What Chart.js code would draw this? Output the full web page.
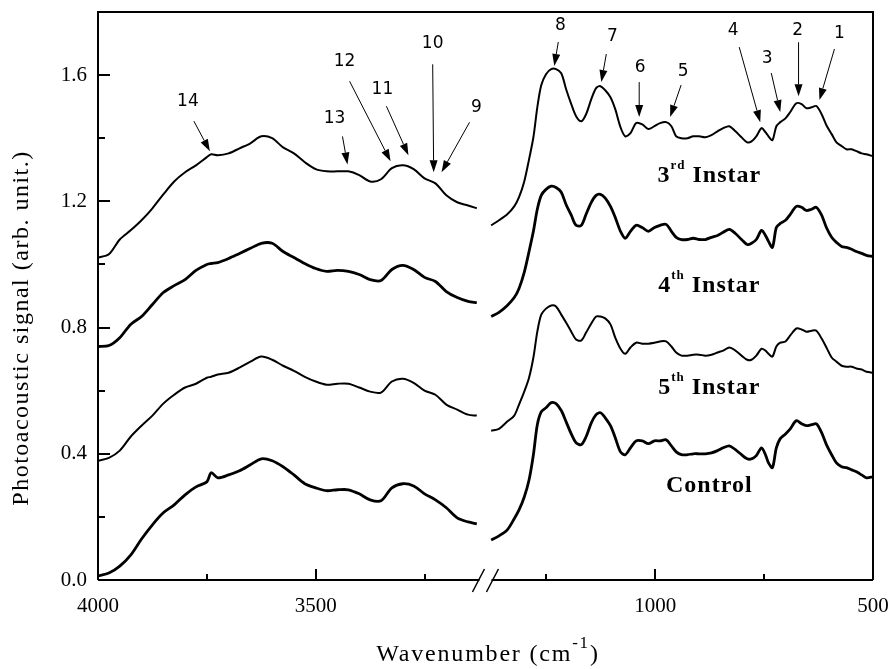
<!DOCTYPE html>
<html>
<head>
<meta charset="utf-8">
<script src="https://cdn.jsdelivr.net/npm/chart.js@4.4.1/dist/chart.umd.min.js"></script>
<style>
  html, body { margin: 0; padding: 0; background: #fff; }
  canvas { display: block; }
</style>
</head>
<body>
<canvas id="spectra" width="891" height="669"></canvas>
<script>
// === Data ===
// wavenumbers (cm-1) of the high-frequency part, left of the axis break
const wnLeft = [4000, 3975, 3950, 3925, 3900, 3875, 3850, 3825, 3800, 3775, 3750, 3740, 3725,
  3700, 3675, 3650, 3625, 3600, 3575, 3550, 3525, 3500, 3475, 3450, 3425, 3400, 3375, 3350,
  3325, 3300, 3275, 3250, 3225, 3200, 3175, 3150, 3130];

// wavenumbers of the fingerprint part, right of the break
const wnRight = [1377, 1359, 1340, 1324, 1313, 1301, 1290, 1280, 1271, 1262, 1251, 1239, 1228,
  1216, 1205, 1193, 1182, 1170, 1159, 1147, 1136, 1126, 1115, 1103, 1092, 1080, 1069, 1057,
  1044, 1030, 1016, 1002, 989, 975, 963, 952, 940, 926, 913, 899, 885, 871, 857, 844, 830,
  816, 802, 789, 779, 768, 756, 747, 740, 731, 722, 713, 701, 690, 676, 664, 653, 641, 630,
  618, 607, 595, 584, 572, 561, 549, 538, 526, 515, 500];

const instar3Left = [1.022, 1.032, 1.079, 1.108, 1.140, 1.178, 1.222, 1.263, 1.292, 1.314, 1.340,
  1.349, 1.346, 1.352, 1.368, 1.384, 1.406, 1.400, 1.371, 1.352, 1.324, 1.302, 1.295, 1.295,
  1.295, 1.283, 1.263, 1.270, 1.305, 1.314, 1.302, 1.273, 1.257, 1.219, 1.197, 1.187, 1.178];
const instar3Right = [1.124, 1.140, 1.159, 1.184, 1.213, 1.263, 1.333, 1.403, 1.498, 1.568,
  1.603, 1.619, 1.619, 1.606, 1.556, 1.508, 1.470, 1.454, 1.476, 1.524, 1.559, 1.565, 1.552,
  1.530, 1.492, 1.435, 1.406, 1.416, 1.448, 1.444, 1.429, 1.438, 1.448, 1.451, 1.438, 1.406,
  1.400, 1.400, 1.406, 1.406, 1.403, 1.410, 1.422, 1.432, 1.438, 1.422, 1.403, 1.387, 1.390,
  1.406, 1.432, 1.419, 1.406, 1.394, 1.438, 1.451, 1.463, 1.483, 1.511, 1.508, 1.495, 1.498,
  1.502, 1.476, 1.441, 1.413, 1.387, 1.375, 1.365, 1.365, 1.359, 1.352, 1.349, 1.343];

const instar4Left = [0.740, 0.743, 0.768, 0.810, 0.835, 0.873, 0.911, 0.933, 0.952, 0.981, 1.000,
  1.003, 1.006, 1.019, 1.035, 1.051, 1.067, 1.067, 1.041, 1.022, 1.003, 0.987, 0.978, 0.981,
  0.978, 0.968, 0.952, 0.949, 0.984, 0.997, 0.984, 0.959, 0.946, 0.914, 0.895, 0.883, 0.879];
const instar4Right = [0.835, 0.848, 0.870, 0.895, 0.924, 0.975, 1.041, 1.105, 1.175, 1.219,
  1.238, 1.248, 1.244, 1.229, 1.190, 1.156, 1.124, 1.124, 1.159, 1.197, 1.219, 1.222, 1.210,
  1.184, 1.149, 1.105, 1.083, 1.105, 1.124, 1.117, 1.105, 1.117, 1.124, 1.127, 1.105, 1.086,
  1.079, 1.079, 1.083, 1.079, 1.079, 1.086, 1.092, 1.102, 1.111, 1.098, 1.079, 1.063, 1.067,
  1.079, 1.108, 1.092, 1.073, 1.054, 1.117, 1.130, 1.140, 1.159, 1.184, 1.181, 1.171, 1.175,
  1.181, 1.156, 1.117, 1.086, 1.070, 1.057, 1.054, 1.048, 1.041, 1.035, 1.029, 1.025];

const instar5Left = [0.378, 0.387, 0.410, 0.454, 0.489, 0.521, 0.559, 0.587, 0.610, 0.622, 0.641,
  0.644, 0.651, 0.657, 0.673, 0.692, 0.708, 0.698, 0.679, 0.663, 0.644, 0.629, 0.619, 0.622,
  0.622, 0.610, 0.597, 0.594, 0.629, 0.638, 0.625, 0.600, 0.587, 0.556, 0.540, 0.524, 0.521];
const instar5Right = [0.473, 0.479, 0.502, 0.521, 0.556, 0.597, 0.641, 0.705, 0.787, 0.841,
  0.860, 0.870, 0.867, 0.841, 0.816, 0.787, 0.762, 0.759, 0.784, 0.813, 0.835, 0.835, 0.829,
  0.810, 0.768, 0.733, 0.717, 0.737, 0.752, 0.749, 0.749, 0.752, 0.756, 0.756, 0.740, 0.721,
  0.711, 0.711, 0.714, 0.714, 0.711, 0.714, 0.721, 0.727, 0.737, 0.727, 0.711, 0.698, 0.698,
  0.711, 0.733, 0.727, 0.717, 0.708, 0.740, 0.752, 0.756, 0.775, 0.797, 0.794, 0.787, 0.790,
  0.790, 0.765, 0.737, 0.705, 0.692, 0.679, 0.676, 0.676, 0.670, 0.667, 0.660, 0.657];

const controlLeft = [0.013, 0.022, 0.044, 0.079, 0.130, 0.175, 0.213, 0.238, 0.270, 0.295, 0.311,
  0.340, 0.324, 0.333, 0.346, 0.365, 0.384, 0.378, 0.359, 0.333, 0.305, 0.292, 0.283, 0.286,
  0.286, 0.273, 0.254, 0.251, 0.292, 0.305, 0.298, 0.273, 0.254, 0.229, 0.197, 0.184, 0.178];
const controlRight = [0.127, 0.140, 0.159, 0.194, 0.222, 0.263, 0.317, 0.397, 0.492, 0.533,
  0.546, 0.562, 0.559, 0.537, 0.502, 0.463, 0.435, 0.429, 0.454, 0.498, 0.524, 0.530, 0.514,
  0.489, 0.451, 0.406, 0.397, 0.419, 0.441, 0.441, 0.432, 0.441, 0.441, 0.444, 0.425, 0.406,
  0.397, 0.397, 0.400, 0.400, 0.400, 0.403, 0.410, 0.419, 0.425, 0.413, 0.397, 0.384, 0.384,
  0.394, 0.419, 0.397, 0.371, 0.356, 0.419, 0.448, 0.463, 0.479, 0.505, 0.495, 0.489, 0.492,
  0.495, 0.467, 0.429, 0.397, 0.371, 0.359, 0.356, 0.349, 0.343, 0.333, 0.324, 0.327];

// series labels: [main, superscript, rest]
const seriesLabels = [['3', 'rd', ' Instar'], ['4', 'th', ' Instar'], ['5', 'th', ' Instar'], ['Control', '', '']];
const seriesLabelSignal = [1.262, 0.913, 0.589, 0.278];

// tick labels
const xMajorTicks = [4000, 3500, 1000, 500];
const xMinorTicks = [3750, 3250, 1250, 750];
const yMajorStep = 0.4;
const yMinorStep = 0.2;

// numbered bands marked on the 3rd instar spectrum
const peakNumbers = [14, 13, 12, 11, 10, 9, 8, 7, 6, 5, 4, 3, 2, 1];
const peakWn = [3743, 3427, 3328, 3287, 3229, 3211, 1232, 1124, 1037, 966, 759, 713, 671, 623];
const peakSignal = [1.359, 1.317, 1.327, 1.346, 1.292, 1.292, 1.629, 1.578, 1.467, 1.467, 1.451, 1.483, 1.533, 1.521];

// === Broken axis: map wavenumber to one continuous axis position ===
const BREAK_WN = 2000;
const toAxis = wn => (wn > BREAK_WN ? 4000 - wn : 2280 - wn);
const BREAK_POS = 883;

function spectrum(left, right) {
  const pts = wnLeft.map((w, i) => ({ x: toAxis(w), y: left[i] }));
  pts.push({ x: BREAK_POS, y: null });
  wnRight.forEach((w, i) => pts.push({ x: toAxis(w), y: right[i] }));
  return pts;
}

const SERIF = '"Liberation Serif", "Times New Roman", serif';
const SANS = '"DejaVu Sans", Verdana, sans-serif';

// arrow tail / label offsets (px) relative to the arrow tip, same order as peakNumbers
const arrowTail = [[-16, -30], [-5, -28], [-41, -80], [-22, -49], [-1, -108], [28, -50], [4, -24],
  [5, -28], [0, -35], [11, -32], [-21, -75], [-9, -39], [0, -54], [15, -51]];
const labelOffset = [[-22, -50], [-13, -46], [-46, -100], [-26, -66], [-1, -129], [35, -65], [6, -40],
  [11, -45], [1, -50], [13, -46], [-27, -92], [-13, -53], [-1, -66], [20, -66]];

function drawArrow(ctx, x0, y0, x1, y1) {
  const ang = Math.atan2(y1 - y0, x1 - x0);
  const headLen = 12, headHalf = 4;
  const bx = x1 - headLen * Math.cos(ang), by = y1 - headLen * Math.sin(ang);
  ctx.beginPath();
  ctx.moveTo(x0, y0);
  ctx.lineTo(bx, by);
  ctx.stroke();
  ctx.beginPath();
  ctx.moveTo(x1, y1);
  ctx.lineTo(bx + headHalf * Math.sin(ang), by - headHalf * Math.cos(ang));
  ctx.lineTo(bx - headHalf * Math.sin(ang), by + headHalf * Math.cos(ang));
  ctx.closePath();
  ctx.fill();
}

function drawSupText(ctx, parts, cx, baseY, size, supSize, weight) {
  const [main, sup, rest] = parts;
  ctx.font = `${weight} ${size}px ${SERIF}`;
  const w1 = ctx.measureText(main).width;
  const w3 = ctx.measureText(rest).width;
  ctx.font = `${weight} ${supSize}px ${SERIF}`;
  const w2 = ctx.measureText(sup).width;
  let x = cx - (w1 + w2 + w3) / 2;
  ctx.textAlign = 'left';
  ctx.textBaseline = 'alphabetic';
  ctx.font = `${weight} ${size}px ${SERIF}`;
  ctx.fillText(main, x, baseY);
  x += w1;
  ctx.font = `${weight} ${supSize}px ${SERIF}`;
  ctx.fillText(sup, x, baseY - size * 0.55);
  x += w2;
  ctx.font = `${weight} ${size}px ${SERIF}`;
  ctx.fillText(rest, x, baseY);
}

// === Decorations: frame, inward ticks, axis break, arrows, labels ===
const decorations = {
  id: 'decorations',
  afterDatasetsDraw(chart) {
    const { ctx, chartArea: a, scales: { x, y } } = chart;
    ctx.save();
    ctx.fillStyle = '#000';
    ctx.strokeStyle = '#000';

    // numbered arrows
    ctx.lineWidth = 1;
    ctx.font = `17px ${SANS}`;
    ctx.textAlign = 'center';
    ctx.textBaseline = 'middle';
    peakNumbers.forEach((n, i) => {
      const tx = x.getPixelForValue(toAxis(peakWn[i]));
      const ty = y.getPixelForValue(peakSignal[i]);
      drawArrow(ctx, tx + arrowTail[i][0], ty + arrowTail[i][1], tx, ty);
      ctx.fillText(String(n), tx + labelOffset[i][0], ty + labelOffset[i][1]);
    });

    // series names
    ctx.letterSpacing = '1px';
    seriesLabels.forEach((parts, i) => {
      const cx = x.getPixelForValue(toAxis(876));
      const by = y.getPixelForValue(seriesLabelSignal[i]);
      drawSupText(ctx, parts, cx, by, 24, 13, 'bold');
    });
    ctx.letterSpacing = '0px';

    // frame
    ctx.lineWidth = 2;
    const bx = x.getPixelForValue(BREAK_POS);
    ctx.beginPath();
    ctx.moveTo(a.left, a.bottom);
    ctx.lineTo(a.left, a.top);
    ctx.lineTo(a.right, a.top);
    ctx.lineTo(a.right, a.bottom);
    ctx.moveTo(a.left, a.bottom);
    ctx.lineTo(bx - 3, a.bottom);
    ctx.moveTo(bx + 9, a.bottom);
    ctx.lineTo(a.right, a.bottom);
    ctx.stroke();

    // axis break marks
    ctx.lineWidth = 1.5;
    ctx.beginPath();
    ctx.moveTo(bx - 10, a.bottom + 12);
    ctx.lineTo(bx + 2, a.bottom - 11);
    ctx.moveTo(bx + 4, a.bottom + 12);
    ctx.lineTo(bx + 16, a.bottom - 11);
    ctx.stroke();

    // inward ticks
    ctx.lineWidth = 2;
    ctx.beginPath();
    for (let v = 0; v <= y.max + 1e-9; v += yMinorStep) {
      const major = Math.abs(v / yMajorStep - Math.round(v / yMajorStep)) < 1e-6;
      const py = Math.round(y.getPixelForValue(v));
      ctx.moveTo(a.left, py);
      ctx.lineTo(a.left + (major ? 12 : 7), py);
    }
    xMajorTicks.concat(xMinorTicks).forEach(wn => {
      const major = xMajorTicks.includes(wn);
      const px = Math.round(x.getPixelForValue(toAxis(wn)));
      ctx.moveTo(px, a.bottom);
      ctx.lineTo(px, a.bottom - (major ? 11 : 6));
    });
    ctx.stroke();

    // axis titles
    ctx.letterSpacing = '1.5px';
    ctx.save();
    ctx.translate(22, 328);
    ctx.rotate(-Math.PI / 2);
    ctx.font = `24px ${SERIF}`;
    ctx.textAlign = 'center';
    ctx.textBaseline = 'middle';
    ctx.fillText('Photoacoustic signal (arb. unit.)', 0, 0);
    ctx.restore();

    ctx.letterSpacing = '1.8px';
    drawSupText(ctx, ['Wavenumber (cm', '-1', ')'], 488, 661, 24, 17, 'normal');
    ctx.letterSpacing = '0px';
    ctx.restore();
  }
};

const series = [
  { data: spectrum(instar3Left, instar3Right), width: 2 },
  { data: spectrum(instar4Left, instar4Right), width: 2.8 },
  { data: spectrum(instar5Left, instar5Right), width: 2 },
  { data: spectrum(controlLeft, controlRight), width: 2.8 }
];

const tickPositions = xMajorTicks.concat(xMinorTicks).map(toAxis).sort((p, q) => p - q);

// keep the plot box fixed: no extra room for overhanging edge labels
function fixBox(s, size) {
  s.paddingTop = 0;
  s.paddingBottom = 0;
  s.paddingLeft = 0;
  s.paddingRight = 0;
  if (s.isHorizontal()) s.height = size; else s.width = size;
}

new Chart(document.getElementById('spectra'), {
  type: 'line',
  data: {
    datasets: series.map((s, i) => ({
      label: seriesLabels[i].join(''),
      data: s.data,
      borderColor: '#000',
      borderWidth: s.width,
      pointRadius: 0,
      tension: 0.3,
      fill: false,
      spanGaps: false
    }))
  },
  options: {
    responsive: false,
    animation: false,
    devicePixelRatio: 1,
    layout: { padding: { top: 12, right: 18, left: 0, bottom: 0 } },
    plugins: { legend: { display: false }, tooltip: { enabled: false } },
    scales: {
      x: {
        type: 'linear',
        min: 0,
        max: toAxis(500),
        grid: { display: false, drawTicks: false },
        border: { display: false },
        afterBuildTicks: s => { s.ticks = tickPositions.map(v => ({ value: v })); },
        afterFit: s => fixBox(s, 89),
        ticks: {
          autoSkip: false,
          maxRotation: 0,
          padding: 14,
          color: '#000',
          font: { family: SERIF, size: 21 },
          callback: v => {
            const wn = xMajorTicks.find(t => toAxis(t) === v);
            return wn === undefined ? '' : String(wn);
          }
        }
      },
      y: {
        min: 0,
        max: 1.8,
        grid: { display: false, drawTicks: false },
        border: { display: false },
        afterFit: s => fixBox(s, 98),
        ticks: {
          stepSize: yMinorStep,
          autoSkip: false,
          padding: 11,
          color: '#000',
          font: { family: SERIF, size: 21 },
          callback: v => (Math.abs(v / yMajorStep - Math.round(v / yMajorStep)) < 1e-6 ? v.toFixed(1) : '')
        }
      }
    }
  },
  plugins: [decorations]
});
</script>
</body>
</html>
